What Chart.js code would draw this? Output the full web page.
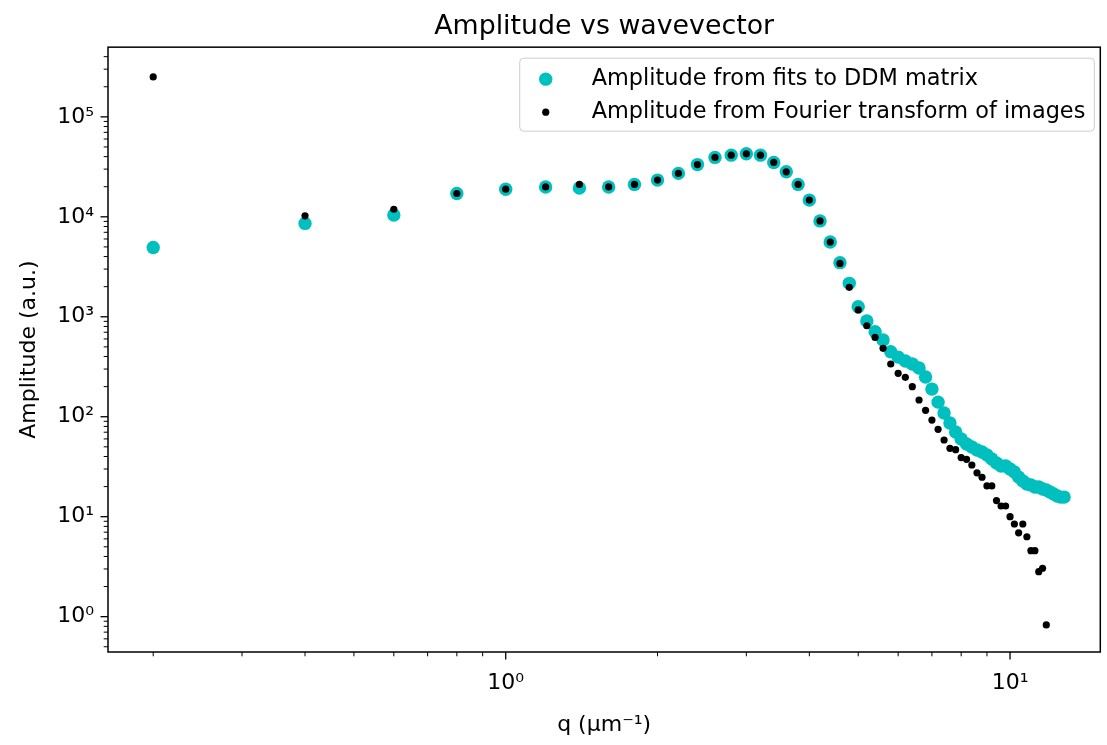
<!DOCTYPE html>
<html lang="en">
<head>
<meta charset="UTF-8">
<title>Amplitude vs wavevector</title>
<script src="https://cdn.jsdelivr.net/npm/chart.js"></script>
<style>
  body { margin: 0; background: #fff; }
  canvas { display: block; }
</style>
</head>
<body>
<canvas id="ampChart" width="1107" height="745"></canvas>
<script>
// wavevector q (1/um), one entry per point
const qValues = [0.2, 0.4, 0.6, 0.8, 1.0, 1.2, 1.4, 1.6, 1.8, 2.0,
  2.2, 2.4, 2.6, 2.8, 3.0, 3.2, 3.4, 3.6, 3.8, 4.0,
  4.2, 4.4, 4.6, 4.8, 5.0, 5.2, 5.4, 5.6, 5.8, 6.0,
  6.2, 6.4, 6.6, 6.8, 7.0, 7.2, 7.4, 7.6, 7.8, 8.0,
  8.2, 8.4, 8.6, 8.8, 9.0, 9.2, 9.4, 9.6, 9.8, 10.0,
  10.2, 10.4, 10.6, 10.8, 11.0, 11.2, 11.4, 11.6, 11.8, 12.0,
  12.2, 12.4, 12.6, 12.8];

// amplitude from fits to DDM matrix (cyan)
const ddmAmplitude = [4940, 8590, 10400, 17100, 18900, 19900, 19400, 19900, 21100, 23300,
  27200, 33300, 39300, 41400, 42700, 41400, 35000, 28200, 21100, 14700,
  9100, 5600, 3480, 2160, 1260, 906, 708, 585, 447, 395,
  361, 337, 307, 250, 189, 140, 109, 86.5, 70.3, 59.8,
  53.3, 49.8, 46.4, 44.4, 41.4, 37.8, 34.4, 32.1, 32.1, 30.0,
  28.0, 24.9, 22.8, 21.2, 20.8, 19.8, 19.8, 18.9, 18.5, 17.7,
  16.9, 16.1, 15.7, 15.7];

// amplitude from Fourier transform of images (black); null = not positive, not shown on log axis
const fourierAmplitude = [251000, 10230, 11900, 17100, 18900, 19900, 21100, 19900, 21100, 23300,
  27200, 33300, 39300, 41400, 42700, 41400, 35000, 28200, 21100, 14700,
  9100, 5600, 3420, 1970, 1170, 813, 622, 483, 337, 272,
  248, 200, 147, 116, 92.6, 74.8, 58.5, 48.3, 46.8, 39.0,
  37.5, 32.9, 27.5, 24.8, 20.3, 20.3, 14.5, 12.8, 12.8, 10.0,
  8.45, 6.9, 8.45, 6.3, 4.57, 4.57, 2.82, 3.05, 0.826, null,
  null, null, null, null];

const xLimits = [0.1627, 15.1];
const yLimits = [0.443, 498000];

const FONT = 'DejaVu Sans';
const SUP = {'-': '\u207b', '0': '\u2070', '1': '\u00b9', '2': '\u00b2', '3': '\u00b3',
  '4': '\u2074', '5': '\u2075', '6': '\u2076', '7': '\u2077', '8': '\u2078', '9': '\u2079'};

function decadeLabel(v) {
  const e = Math.log10(v);
  if (Math.abs(e - Math.round(e)) > 1e-6) return '';
  return '10' + String(Math.round(e)).split('').map(c => SUP[c]).join('');
}

function toPoints(ys) {
  return qValues.map((q, i) => ({x: q, y: ys[i]})).filter(p => p.y !== null);
}

function logTickValues(min, max) {
  const out = [];
  for (let e = Math.floor(Math.log10(min)); e <= Math.ceil(Math.log10(max)); e++) {
    for (let m = 1; m <= 9; m++) {
      const v = m * Math.pow(10, e);
      if (v >= min && v <= max) out.push({v: v, major: m === 1});
    }
  }
  return out;
}

// frame, outward ticks and the boxed legend, like matplotlib
const axesDecor = {
  id: 'axesDecor',
  afterDraw(chart) {
    const ctx = chart.ctx;
    const a = chart.chartArea;
    const xs = chart.scales.x, ys = chart.scales.y;
    ctx.save();
    ctx.strokeStyle = '#000';

    logTickValues(xLimits[0], xLimits[1]).forEach(t => {
      const px = xs.getPixelForValue(t.v);
      ctx.lineWidth = t.major ? 1.3 : 1;
      ctx.beginPath();
      ctx.moveTo(px, a.bottom);
      ctx.lineTo(px, a.bottom + (t.major ? 7.5 : 4.3));
      ctx.stroke();
    });
    logTickValues(yLimits[0], yLimits[1]).forEach(t => {
      const py = ys.getPixelForValue(t.v);
      ctx.lineWidth = t.major ? 1.3 : 1;
      ctx.beginPath();
      ctx.moveTo(a.left, py);
      ctx.lineTo(a.left - (t.major ? 7.5 : 4.3), py);
      ctx.stroke();
    });

    ctx.lineWidth = 1.5;
    ctx.strokeRect(a.left, a.top, a.right - a.left, a.bottom - a.top);

    // legend
    ctx.font = '22.4px "' + FONT + '"';
    const sets = chart.data.datasets;
    const textW = Math.max(...sets.map(d => ctx.measureText(d.label).width));
    const right = a.right - 6, top = a.top + 11;
    const left = right - (72 + textW + 9);
    const h = 73;
    ctx.beginPath();
    ctx.roundRect(left, top, right - left, h, 4);
    ctx.fillStyle = 'rgba(255,255,255,0.8)';
    ctx.fill();
    ctx.strokeStyle = '#cccccc';
    ctx.lineWidth = 1;
    ctx.stroke();
    sets.forEach((d, i) => {
      const cy = top + 21 + i * 33;
      ctx.fillStyle = d.backgroundColor;
      ctx.beginPath();
      ctx.arc(left + 26, cy, d.pointRadius, 0, Math.PI * 2);
      ctx.fill();
      ctx.fillStyle = '#000';
      ctx.textBaseline = 'middle';
      ctx.textAlign = 'left';
      ctx.fillText(d.label, left + 72, cy);
    });
    ctx.restore();
  }
};

new Chart(document.getElementById('ampChart'), {
  type: 'scatter',
  data: {
    datasets: [{
      label: 'Amplitude from fits to DDM matrix',
      data: toPoints(ddmAmplitude),
      backgroundColor: '#00bfbf',
      borderWidth: 0,
      pointRadius: 6.7,
      order: 2
    }, {
      label: 'Amplitude from Fourier transform of images',
      data: toPoints(fourierAmplitude),
      backgroundColor: '#000000',
      borderWidth: 0,
      pointRadius: 3.6,
      order: 1
    }]
  },
  options: {
    responsive: false,
    animation: false,
    layout: { padding: { left: 0, right: 0, top: 0, bottom: 0 } },
    plugins: {
      legend: { display: false },
      tooltip: { enabled: false },
      title: {
        display: true,
        text: 'Amplitude vs wavevector',
        fullSize: false,
        color: '#000',
        font: { family: FONT, size: 26.8, weight: 'normal' },
        padding: { top: 11, bottom: 4 }
      }
    },
    scales: {
      x: {
        type: 'logarithmic',
        min: xLimits[0],
        max: xLimits[1],
        grid: { display: false, drawTicks: false },
        border: { display: false },
        ticks: {
          autoSkip: false, maxRotation: 0, padding: 18, color: '#000',
          font: { family: FONT, size: 22 },
          callback: v => decadeLabel(v)
        },
        title: {
          display: true, text: 'q (\u00b5m\u207b\u00b9)', color: '#000',
          font: { family: FONT, size: 22 },
          padding: { top: 0, bottom: 7 }
        },
        afterFit: s => { s.height = 93; s.paddingLeft = 0; s.paddingRight = 0; }
      },
      y: {
        type: 'logarithmic',
        min: yLimits[0],
        max: yLimits[1],
        grid: { display: false, drawTicks: false },
        border: { display: false },
        ticks: {
          autoSkip: false, padding: 14, color: '#000',
          font: { family: FONT, size: 22 },
          callback: v => decadeLabel(v)
        },
        title: {
          display: true, text: 'Amplitude (a.u.)', color: '#000',
          font: { family: FONT, size: 22 },
          padding: { top: 16, bottom: 0 }
        },
        afterFit: s => { s.width = 108; }
      }
    }
  },
  plugins: [axesDecor]
});
</script>
</body>
</html>
